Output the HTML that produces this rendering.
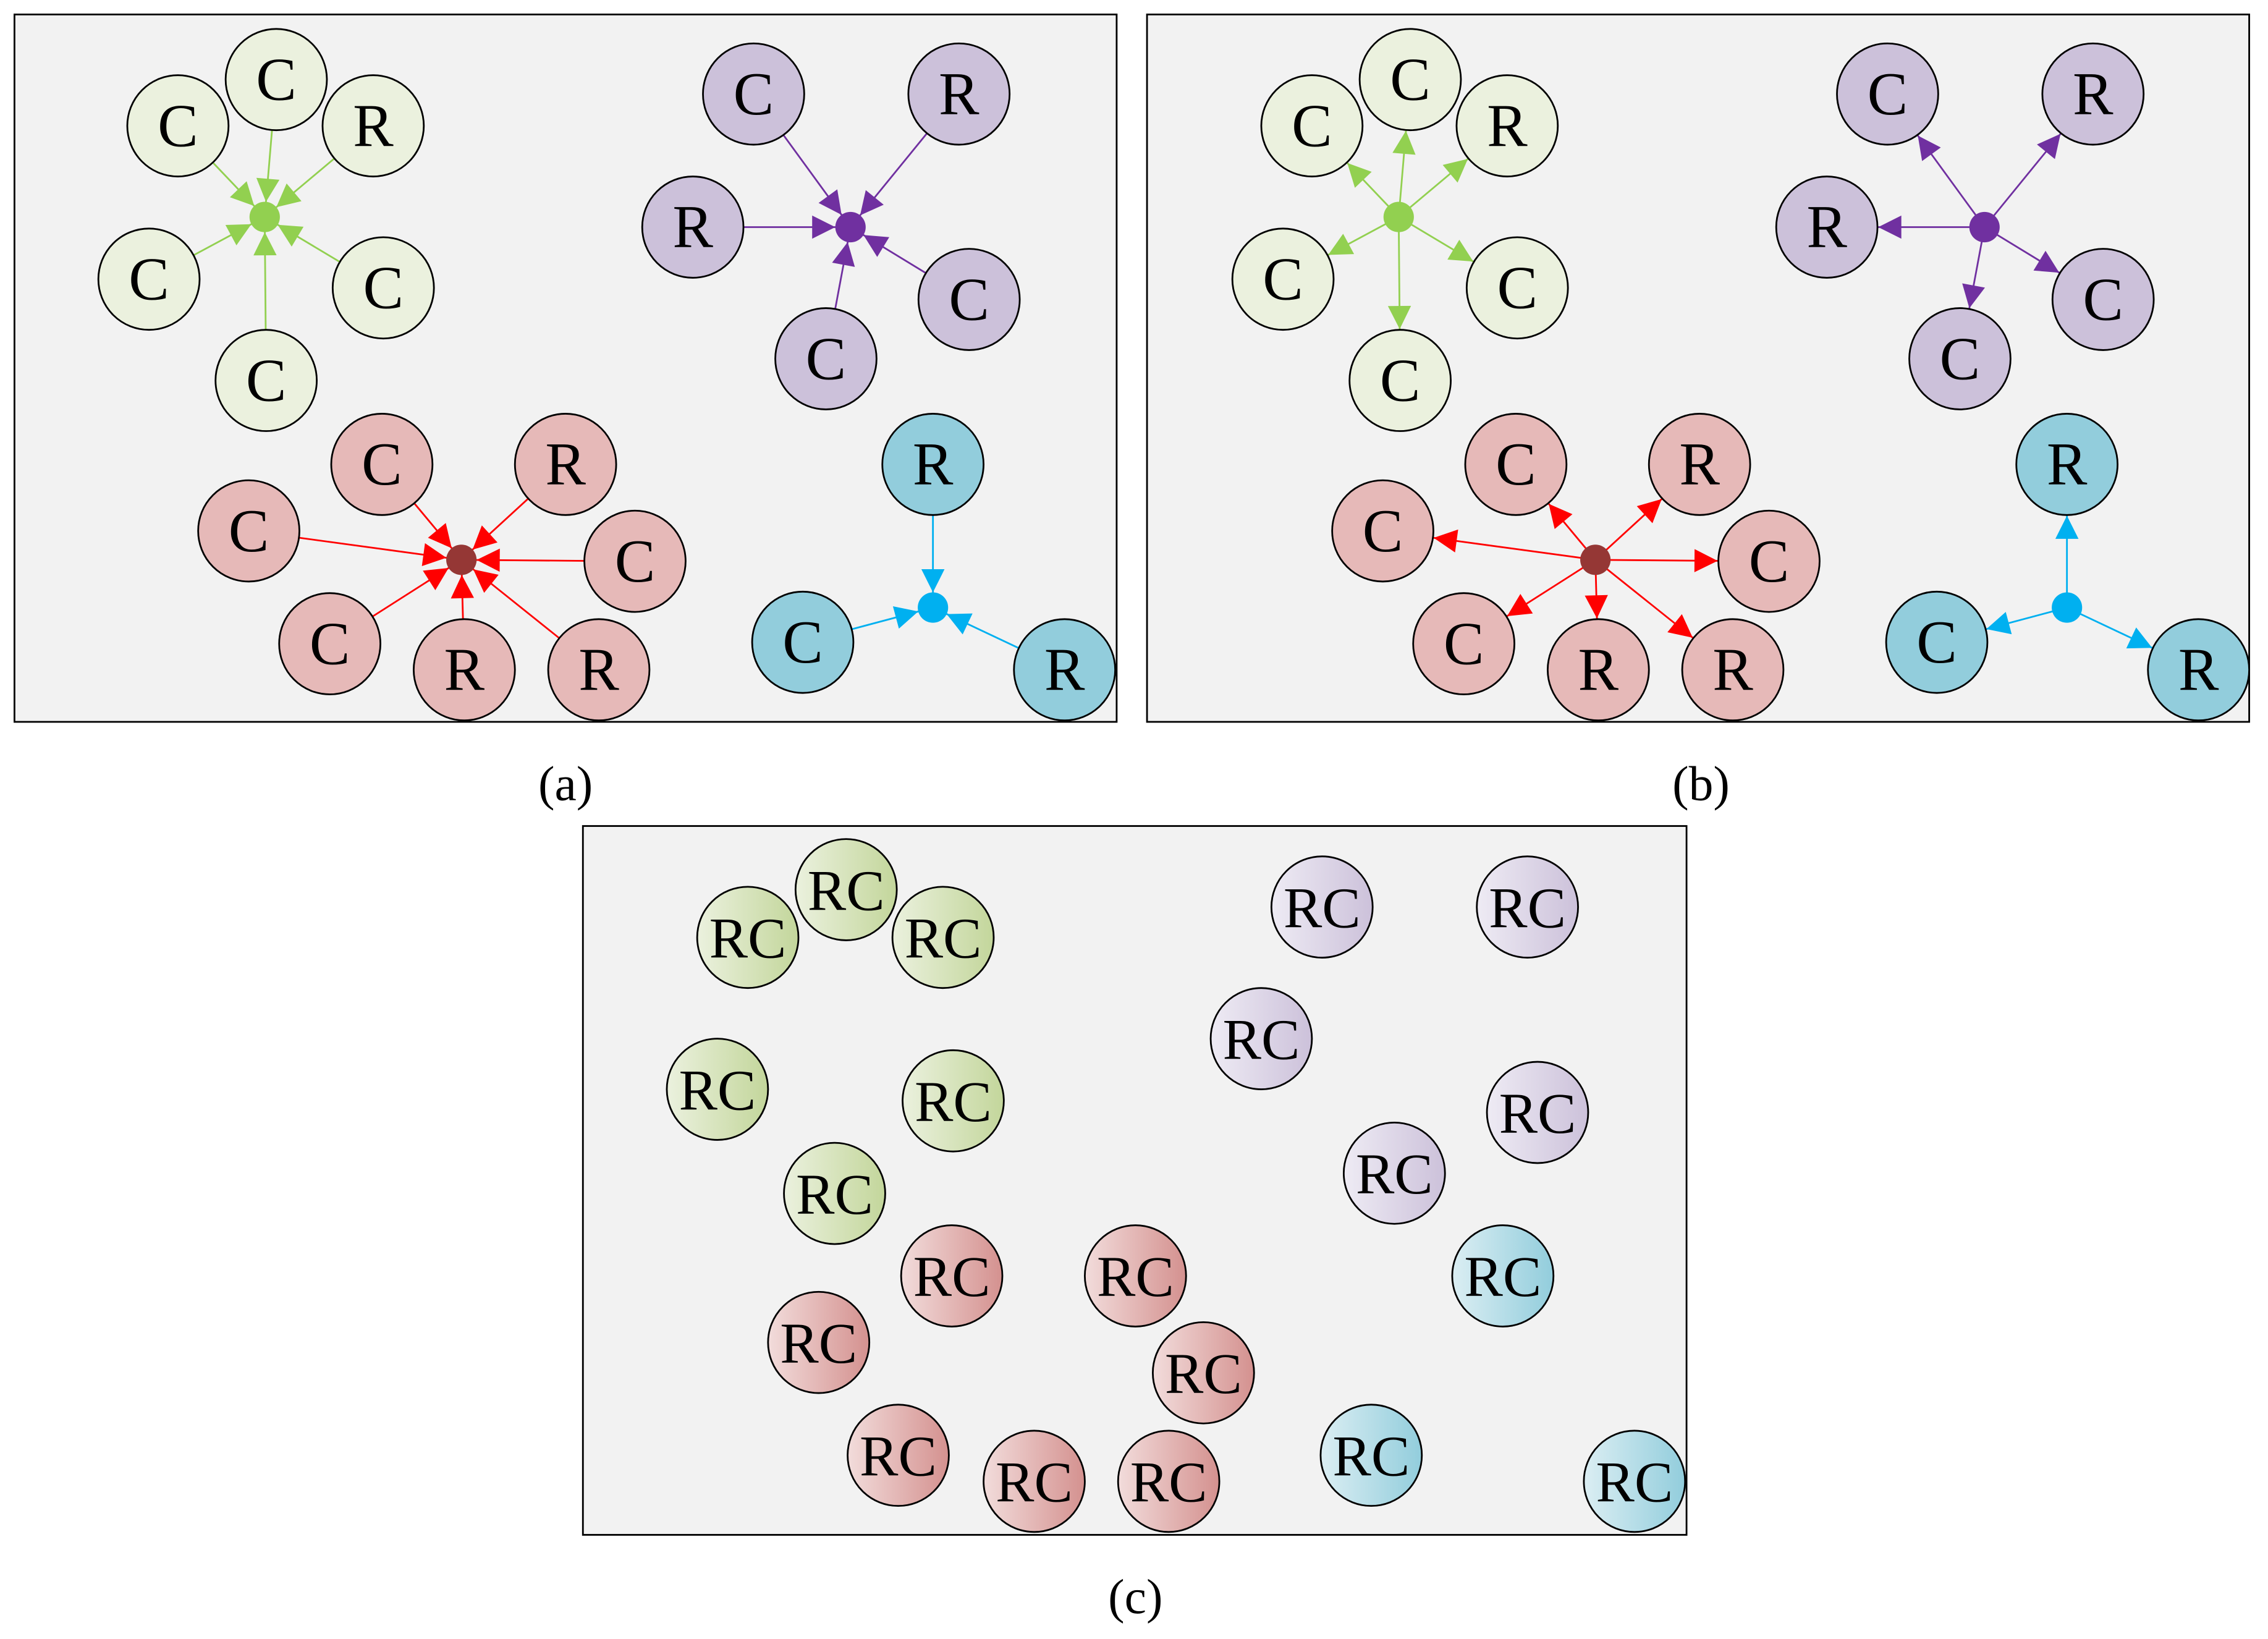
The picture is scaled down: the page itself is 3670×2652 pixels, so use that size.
<!DOCTYPE html>
<html><head><meta charset="utf-8"><style>html,body{margin:0;padding:0;background:#fff}svg{display:block}</style></head>
<body>
<svg width="3670" height="2652" viewBox="0 0 1568 1133" preserveAspectRatio="none" xmlns="http://www.w3.org/2000/svg" font-family="'Liberation Serif', serif">
<defs>
<marker id="ag" markerUnits="userSpaceOnUse" markerWidth="60" markerHeight="40" viewBox="-30 -20 60 40" refX="10.5" refY="0" orient="auto"><path d="M-16,-8 L0,0 L-16,8 z" fill="#92d050"/></marker>
<marker id="ap" markerUnits="userSpaceOnUse" markerWidth="60" markerHeight="40" viewBox="-30 -20 60 40" refX="10.5" refY="0" orient="auto"><path d="M-16,-8 L0,0 L-16,8 z" fill="#7030a0"/></marker>
<marker id="ar" markerUnits="userSpaceOnUse" markerWidth="60" markerHeight="40" viewBox="-30 -20 60 40" refX="10.5" refY="0" orient="auto"><path d="M-16,-8 L0,0 L-16,8 z" fill="#ff0000"/></marker>
<marker id="ab" markerUnits="userSpaceOnUse" markerWidth="60" markerHeight="40" viewBox="-30 -20 60 40" refX="10.5" refY="0" orient="auto"><path d="M-16,-8 L0,0 L-16,8 z" fill="#00b0f0"/></marker>
<marker id="bg" markerUnits="userSpaceOnUse" markerWidth="100" markerHeight="40" viewBox="-70 -20 100 40" refX="35.5" refY="0" orient="auto"><path d="M-16,-8 L0,0 L-16,8 z" fill="#92d050"/></marker>
<marker id="bp" markerUnits="userSpaceOnUse" markerWidth="100" markerHeight="40" viewBox="-70 -20 100 40" refX="35.5" refY="0" orient="auto"><path d="M-16,-8 L0,0 L-16,8 z" fill="#7030a0"/></marker>
<marker id="br" markerUnits="userSpaceOnUse" markerWidth="100" markerHeight="40" viewBox="-70 -20 100 40" refX="35.5" refY="0" orient="auto"><path d="M-16,-8 L0,0 L-16,8 z" fill="#ff0000"/></marker>
<marker id="bb" markerUnits="userSpaceOnUse" markerWidth="100" markerHeight="40" viewBox="-70 -20 100 40" refX="35.5" refY="0" orient="auto"><path d="M-16,-8 L0,0 L-16,8 z" fill="#00b0f0"/></marker>
<linearGradient id="gg" x1="0" x2="1" y1="0" y2="0"><stop offset="0" stop-color="#ebf1de"/><stop offset="1" stop-color="#c3d69b"/></linearGradient>
<linearGradient id="gp" x1="0" x2="1" y1="0" y2="0"><stop offset="0" stop-color="#eeebf4"/><stop offset="1" stop-color="#ccc1da"/></linearGradient>
<linearGradient id="gr" x1="0" x2="1" y1="0" y2="0"><stop offset="0" stop-color="#f2dcdb"/><stop offset="1" stop-color="#d4918f"/></linearGradient>
<linearGradient id="gb" x1="0" x2="1" y1="0" y2="0"><stop offset="0" stop-color="#dbeef3"/><stop offset="1" stop-color="#92cddc"/></linearGradient>
</defs>

<rect x="10" y="10" width="762" height="489" fill="#f2f2f2" stroke="#000" stroke-width="1.2"/>
<rect x="793" y="10" width="762" height="489" fill="#f2f2f2" stroke="#000" stroke-width="1.2"/>
<rect x="403" y="571" width="763" height="490" fill="#f2f2f2" stroke="#000" stroke-width="1.2"/>

<g font-size="34" text-anchor="middle">
<text x="391" y="553">(a)</text>
<text x="1176" y="553">(b)</text>
<text x="785" y="1115">(c)</text>
</g>

<!-- Panel a -->
<g stroke-width="1.2">
<g stroke="#92d050" marker-end="url(#ag)">
<line x1="191" y1="55" x2="183" y2="150"/><line x1="123" y1="87" x2="183" y2="150"/><line x1="258" y1="87" x2="183" y2="150"/>
<line x1="103" y1="193" x2="183" y2="150"/><line x1="265" y1="199" x2="183" y2="150"/><line x1="184" y1="263" x2="183" y2="150"/>
</g>
<g stroke="#7030a0" marker-end="url(#ap)">
<line x1="521" y1="65" x2="588" y2="157"/><line x1="663" y1="65" x2="588" y2="157"/><line x1="479" y1="157" x2="588" y2="157"/>
<line x1="670" y1="207" x2="588" y2="157"/><line x1="571" y1="248" x2="588" y2="157"/>
</g>
<g stroke="#ff0000" marker-end="url(#ar)">
<line x1="264" y1="321" x2="319" y2="387"/><line x1="391" y1="321" x2="319" y2="387"/><line x1="172" y1="367" x2="319" y2="387"/>
<line x1="439" y1="388" x2="319" y2="387"/><line x1="228" y1="445" x2="319" y2="387"/><line x1="321" y1="463" x2="319" y2="387"/>
<line x1="414" y1="463" x2="319" y2="387"/>
</g>
<g stroke="#00b0f0" marker-end="url(#ab)">
<line x1="645" y1="321" x2="645" y2="420"/><line x1="555" y1="444" x2="645" y2="420"/><line x1="736" y1="463" x2="645" y2="420"/>
</g>
</g>
<circle cx="183" cy="150" r="10.5" fill="#92d050"/>
<circle cx="588" cy="157" r="10.5" fill="#7030a0"/>
<circle cx="319" cy="387" r="10.5" fill="#953735"/>
<circle cx="645" cy="420" r="10.5" fill="#00b0f0"/>

<g stroke="#000" stroke-width="1.2">
<g fill="#ebf1de"><circle cx="191" cy="55" r="35"/><circle cx="123" cy="87" r="35"/><circle cx="258" cy="87" r="35"/><circle cx="103" cy="193" r="35"/><circle cx="265" cy="199" r="35"/><circle cx="184" cy="263" r="35"/></g>
<g fill="#ccc1da"><circle cx="521" cy="65" r="35"/><circle cx="663" cy="65" r="35"/><circle cx="479" cy="157" r="35"/><circle cx="670" cy="207" r="35"/><circle cx="571" cy="248" r="35"/></g>
<g fill="#e6b9b8"><circle cx="264" cy="321" r="35"/><circle cx="391" cy="321" r="35"/><circle cx="172" cy="367" r="35"/><circle cx="439" cy="388" r="35"/><circle cx="228" cy="445" r="35"/><circle cx="321" cy="463" r="35"/><circle cx="414" cy="463" r="35"/></g>
<g fill="#92cddc"><circle cx="645" cy="321" r="35"/><circle cx="555" cy="444" r="35"/><circle cx="736" cy="463" r="35"/></g>
</g>
<g font-size="42" text-anchor="middle" fill="#000">
<text x="191" y="69">C</text><text x="123" y="101">C</text><text x="258" y="101">R</text><text x="103" y="207">C</text><text x="265" y="213">C</text><text x="184" y="277">C</text>
<text x="521" y="79">C</text><text x="663" y="79">R</text><text x="479" y="171">R</text><text x="670" y="221">C</text><text x="571" y="262">C</text>
<text x="264" y="335">C</text><text x="391" y="335">R</text><text x="172" y="381">C</text><text x="439" y="402">C</text><text x="228" y="459">C</text><text x="321" y="477">R</text><text x="414" y="477">R</text>
<text x="645" y="335">R</text><text x="555" y="458">C</text><text x="736" y="477">R</text>
</g>

<!-- Panel b -->
<g transform="translate(784,0)">
<g stroke-width="1.2">
<g stroke="#92d050" marker-end="url(#bg)">
<line x2="191" y2="55" x1="183" y1="150"/><line x2="123" y2="87" x1="183" y1="150"/><line x2="258" y2="87" x1="183" y1="150"/>
<line x2="103" y2="193" x1="183" y1="150"/><line x2="265" y2="199" x1="183" y1="150"/><line x2="184" y2="263" x1="183" y1="150"/>
</g>
<g stroke="#7030a0" marker-end="url(#bp)">
<line x2="521" y2="65" x1="588" y1="157"/><line x2="663" y2="65" x1="588" y1="157"/><line x2="479" y2="157" x1="588" y1="157"/>
<line x2="670" y2="207" x1="588" y1="157"/><line x2="571" y2="248" x1="588" y1="157"/>
</g>
<g stroke="#ff0000" marker-end="url(#br)">
<line x2="264" y2="321" x1="319" y1="387"/><line x2="391" y2="321" x1="319" y1="387"/><line x2="172" y2="367" x1="319" y1="387"/>
<line x2="439" y2="388" x1="319" y1="387"/><line x2="228" y2="445" x1="319" y1="387"/><line x2="321" y2="463" x1="319" y1="387"/>
<line x2="414" y2="463" x1="319" y1="387"/>
</g>
<g stroke="#00b0f0" marker-end="url(#bb)">
<line x2="645" y2="321" x1="645" y1="420"/><line x2="555" y2="444" x1="645" y1="420"/><line x2="736" y2="463" x1="645" y1="420"/>
</g>
</g>
<circle cx="183" cy="150" r="10.5" fill="#92d050"/>
<circle cx="588" cy="157" r="10.5" fill="#7030a0"/>
<circle cx="319" cy="387" r="10.5" fill="#953735"/>
<circle cx="645" cy="420" r="10.5" fill="#00b0f0"/>
<g stroke="#000" stroke-width="1.2">
<g fill="#ebf1de"><circle cx="191" cy="55" r="35"/><circle cx="123" cy="87" r="35"/><circle cx="258" cy="87" r="35"/><circle cx="103" cy="193" r="35"/><circle cx="265" cy="199" r="35"/><circle cx="184" cy="263" r="35"/></g>
<g fill="#ccc1da"><circle cx="521" cy="65" r="35"/><circle cx="663" cy="65" r="35"/><circle cx="479" cy="157" r="35"/><circle cx="670" cy="207" r="35"/><circle cx="571" cy="248" r="35"/></g>
<g fill="#e6b9b8"><circle cx="264" cy="321" r="35"/><circle cx="391" cy="321" r="35"/><circle cx="172" cy="367" r="35"/><circle cx="439" cy="388" r="35"/><circle cx="228" cy="445" r="35"/><circle cx="321" cy="463" r="35"/><circle cx="414" cy="463" r="35"/></g>
<g fill="#92cddc"><circle cx="645" cy="321" r="35"/><circle cx="555" cy="444" r="35"/><circle cx="736" cy="463" r="35"/></g>
</g>
<g font-size="42" text-anchor="middle" fill="#000">
<text x="191" y="69">C</text><text x="123" y="101">C</text><text x="258" y="101">R</text><text x="103" y="207">C</text><text x="265" y="213">C</text><text x="184" y="277">C</text>
<text x="521" y="79">C</text><text x="663" y="79">R</text><text x="479" y="171">R</text><text x="670" y="221">C</text><text x="571" y="262">C</text>
<text x="264" y="335">C</text><text x="391" y="335">R</text><text x="172" y="381">C</text><text x="439" y="402">C</text><text x="228" y="459">C</text><text x="321" y="477">R</text><text x="414" y="477">R</text>
<text x="645" y="335">R</text><text x="555" y="458">C</text><text x="736" y="477">R</text>
</g>
</g>

<!-- Panel c -->
<g stroke="#000" stroke-width="1.2">
<g fill="url(#gg)"><circle cx="585" cy="615" r="35"/><circle cx="517" cy="648" r="35"/><circle cx="652" cy="648" r="35"/><circle cx="496" cy="753" r="35"/><circle cx="659" cy="761" r="35"/><circle cx="577" cy="825" r="35"/></g>
<g fill="url(#gp)"><circle cx="914" cy="627" r="35"/><circle cx="1056" cy="627" r="35"/><circle cx="872" cy="718" r="35"/><circle cx="1063" cy="769" r="35"/><circle cx="964" cy="811" r="35"/></g>
<g fill="url(#gr)"><circle cx="658" cy="882" r="35"/><circle cx="785" cy="882" r="35"/><circle cx="566" cy="928" r="35"/><circle cx="832" cy="949" r="35"/><circle cx="621" cy="1006" r="35"/><circle cx="715" cy="1024" r="35"/><circle cx="808" cy="1024" r="35"/></g>
<g fill="url(#gb)"><circle cx="1039" cy="882" r="35"/><circle cx="948" cy="1006" r="35"/><circle cx="1130" cy="1024" r="35"/></g>
</g>
<g font-size="40" text-anchor="middle" fill="#000">
<text x="585" y="629">RC</text><text x="517" y="662">RC</text><text x="652" y="662">RC</text><text x="496" y="767">RC</text><text x="659" y="775">RC</text><text x="577" y="839">RC</text>
<text x="914" y="641">RC</text><text x="1056" y="641">RC</text><text x="872" y="732">RC</text><text x="1063" y="783">RC</text><text x="964" y="825">RC</text>
<text x="658" y="896">RC</text><text x="785" y="896">RC</text><text x="566" y="942">RC</text><text x="832" y="963">RC</text><text x="621" y="1020">RC</text><text x="715" y="1038">RC</text><text x="808" y="1038">RC</text>
<text x="1039" y="896">RC</text><text x="948" y="1020">RC</text><text x="1130" y="1038">RC</text>
</g>
</svg>
</body></html>
